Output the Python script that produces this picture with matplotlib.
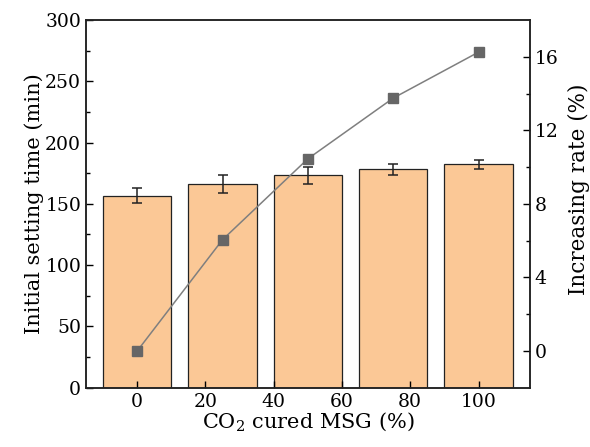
import numpy as np
import matplotlib.pyplot as plt

plt.rcParams['font.family'] = ['DejaVu Serif']
plt.rcParams['mathtext.fontset'] = 'dejavuserif'

# data
msg = [0, 25, 50, 75, 100]
setting_time = [156.6, 166.4, 173.3, 178.2, 182.3]
setting_err = [6.0, 7.3, 6.7, 4.3, 3.7]
increase_rate = [0.0, 6.05, 10.45, 13.75, 16.25]

fig = plt.figure(figsize=(5.9, 4.47), dpi=100)
ax = fig.add_axes([0.1458, 0.1326, 0.752, 0.8227])

ax.bar(msg, setting_time, width=20, color='#fbc896', edgecolor='#222222',
       linewidth=0.9, yerr=setting_err, capsize=3.5,
       error_kw=dict(ecolor='#222222', elinewidth=1.1, capthick=1.1))
ax.set_xlim(-15, 115)
ax.set_ylim(0, 300)
ax.set_xticks([0, 20, 40, 60, 80, 100])
ax.set_yticks(np.arange(0, 301, 50))
ax.set_yticks(np.arange(25, 300, 50), minor=True)
ax.set_xlabel('CO$_2$ cured MSG (%)', fontsize=15, labelpad=0)
ax.set_ylabel('Initial setting time (min)', fontsize=15, labelpad=1)
ax.tick_params(direction='in', labelsize=13.5, length=5, width=1)
ax.tick_params(which='minor', direction='in', length=3, width=1)

ax2 = ax.twinx()
ax2.plot(msg, increase_rate, color='#7f7f7f', lw=1.1, marker='s',
         markersize=7, markerfacecolor='#666666', markeredgecolor='#666666')
ax2.set_ylim(-2, 18)
ax2.set_yticks([0, 4, 8, 12, 16])
ax2.set_yticks([2, 6, 10, 14], minor=True)
ax2.set_ylabel('Increasing rate (%)', fontsize=15.5)
ax2.yaxis.set_label_coords(1.085, 0.54)
ax2.tick_params(direction='in', labelsize=13.5, length=5, width=1)
ax2.tick_params(which='minor', direction='in', length=3, width=1)

for a in (ax, ax2):
    for s in a.spines.values():
        s.set_linewidth(1.1)
        s.set_color('#222222')

fig.savefig('out.png', dpi=100)
